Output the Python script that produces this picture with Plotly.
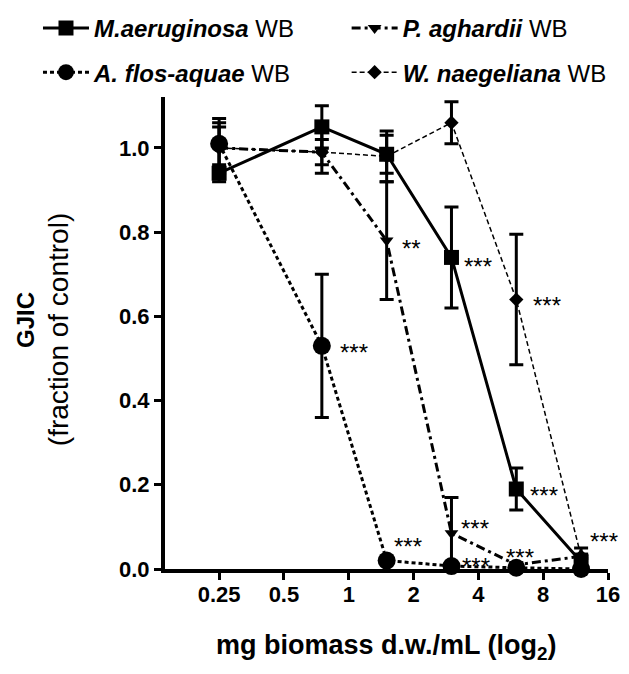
import numpy as np
import plotly.graph_objects as go

# ---- data ----
dose = [0.25, 0.75, 1.5, 3, 6, 12]

mae_y = [0.94, 1.05, 0.985, 0.74, 0.19, 0.017]
mae_err = [0.02, 0.05, 0.045, 0.12, 0.05, 0.033]

afa_y = [1.01, 0.53, 0.02, 0.007, 0.003, 0.0]
afa_err = [0.06, 0.17, 0.005, 0.005, 0.003, 0.0]

pag_y = [1.0, 0.99, 0.78, 0.085, 0.01, 0.03]
pag_err = [0.06, 0.05, 0.14, 0.085, 0.005, 0.005]

wna_y = [1.0, 0.99, 0.98, 1.06, 0.64, 0.03]
wna_err = [0.05, 0.03, 0.06, 0.05, 0.155, 0.005]

x_ticks = [0.25, 0.5, 1, 2, 4, 8, 16]
x_ticklabels = ["0.25", "0.5", "1", "2", "4", "8", "16"]
y_ticks = [0.0, 0.2, 0.4, 0.6, 0.8, 1.0]
y_ticklabels = ["0.0", "0.2", "0.4", "0.6", "0.8", "1.0"]

names = {
    "mae": "<b><i>M.aeruginosa</i></b> WB",
    "afa": "<b><i>A. flos-aquae</i></b> WB",
    "pag": "<b><i>P. aghardii</i></b> WB",
    "wna": "<b><i>W. naegeliana</i></b> WB",
}
series = {"mae": mae_y, "afa": afa_y, "pag": pag_y, "wna": wna_y}
errors = {"mae": mae_err, "afa": afa_err, "pag": pag_err, "wna": wna_err}

# significance labels: (series, point index, label, dx px, dy px)
stars = [
    ("pag", 2, "**", 13, -2),
    ("mae", 3, "***", 11, -3),
    ("wna", 4, "***", 15, 0),
    ("afa", 1, "***", 16, -1),
    ("mae", 4, "***", 12, 0),
    ("afa", 2, "***", 5, 20),
    ("pag", 3, "***", 8, 11),
    ("afa", 3, "***", 9, 6),
    ("afa", 4, "***", -12, 16),
    ("mae", 5, "***", 7, 26),
]

FONT = "Arial, Liberation Sans, sans-serif"

styles = {
    "wna": dict(line=dict(color="black", width=1.5, dash="5px,3px"),
                marker=dict(symbol="diamond", size=11, color="black"), legend="legend2"),
    "pag": dict(line=dict(color="black", width=3, dash="9px,4px,3px,4px"),
                marker=dict(symbol="triangle-down", size=12, color="black"), legend="legend2"),
    "afa": dict(line=dict(color="black", width=3, dash="4px,3px"),
                marker=dict(symbol="circle", size=18, color="black"), legend="legend"),
    "mae": dict(line=dict(color="black", width=3),
                marker=dict(symbol="square", size=15, color="black"), legend="legend"),
}

fig = go.Figure()
for key in ["wna", "pag", "afa", "mae"]:
    st = styles[key]
    fig.add_trace(go.Scatter(
        x=dose, y=series[key], name=names[key], mode="lines+markers",
        line=st["line"], marker=st["marker"],
        error_y=dict(type="data", array=errors[key], visible=True,
                     color="black", thickness=3, width=7),
        legend=st["legend"], legendgroup=key,
        legendrank={"mae": 1, "afa": 2, "pag": 1, "wna": 2}[key],
        cliponaxis=False,
    ))

for key, i, lab, dx, dy in stars:
    fig.add_annotation(
        x=np.log10(dose[i]), y=series[key][i], text=lab, showarrow=False,
        xanchor="left", yanchor="middle", xshift=dx, yshift=dy - 6,
        font=dict(family=FONT, size=24, color="black"),
    )

# axis titles
fig.add_annotation(xref="paper", yref="paper", x=-0.316, y=0.5275, text="<b>GJIC</b>",
                   textangle=-90, showarrow=False, xanchor="center", yanchor="middle",
                   font=dict(family=FONT, size=24, color="black"))
fig.add_annotation(xref="paper", yref="paper", x=-0.2415, y=0.506, text="(fraction of control)",
                   textangle=-90, showarrow=False, xanchor="center", yanchor="middle",
                   font=dict(family=FONT, size=28, color="black"))
fig.add_annotation(xref="paper", yref="paper", x=0.5, y=-0.165,
                   text="<b>mg biomass d.w./mL (log<sub>2</sub>)</b>",
                   showarrow=False, xanchor="center", yanchor="middle",
                   font=dict(family=FONT, size=27, color="black"))

fig.update_layout(
    width=629, height=674,
    margin=dict(l=165, r=21, t=97, b=105, autoexpand=False),
    paper_bgcolor="white", plot_bgcolor="white",
    font=dict(family=FONT, color="black"),
    showlegend=True,
    legend=dict(x=-0.2867, xanchor="left", y=1.193, yanchor="top",
                font=dict(family=FONT, size=24, color="black"),
                itemwidth=46, tracegroupgap=10, bgcolor="rgba(0,0,0,0)",
                traceorder="grouped"),
    legend2=dict(x=0.41, xanchor="left", y=1.193, yanchor="top",
                 font=dict(family=FONT, size=24, color="black"),
                 itemwidth=46, tracegroupgap=10, bgcolor="rgba(0,0,0,0)",
                 traceorder="grouped"),
    xaxis=dict(type="log", range=[np.log10(2 ** -2.835), np.log10(16)],
               tickvals=x_ticks, ticktext=x_ticklabels,
               showline=True, linecolor="black", linewidth=4,
               ticks="outside", ticklen=7, tickwidth=3, tickcolor="black",
               ticklabelstandoff=-4,
               showgrid=False, zeroline=False, layer="below traces", automargin=False,
               tickfont=dict(family=FONT, size=22, color="black", weight="bold")),
    yaxis=dict(range=[0, 1.121], tickvals=y_ticks, ticktext=y_ticklabels,
               showline=True, linecolor="black", linewidth=4,
               ticks="outside", ticklen=7, tickwidth=3, tickcolor="black",
               showgrid=False, zeroline=False, layer="below traces", automargin=False,
               tickfont=dict(family=FONT, size=22, color="black", weight="bold")),
)

fig.write_html("out.html", config={"displayModeBar": False},
               post_script="document.body.style.margin='0';document.body.style.padding='0';")
